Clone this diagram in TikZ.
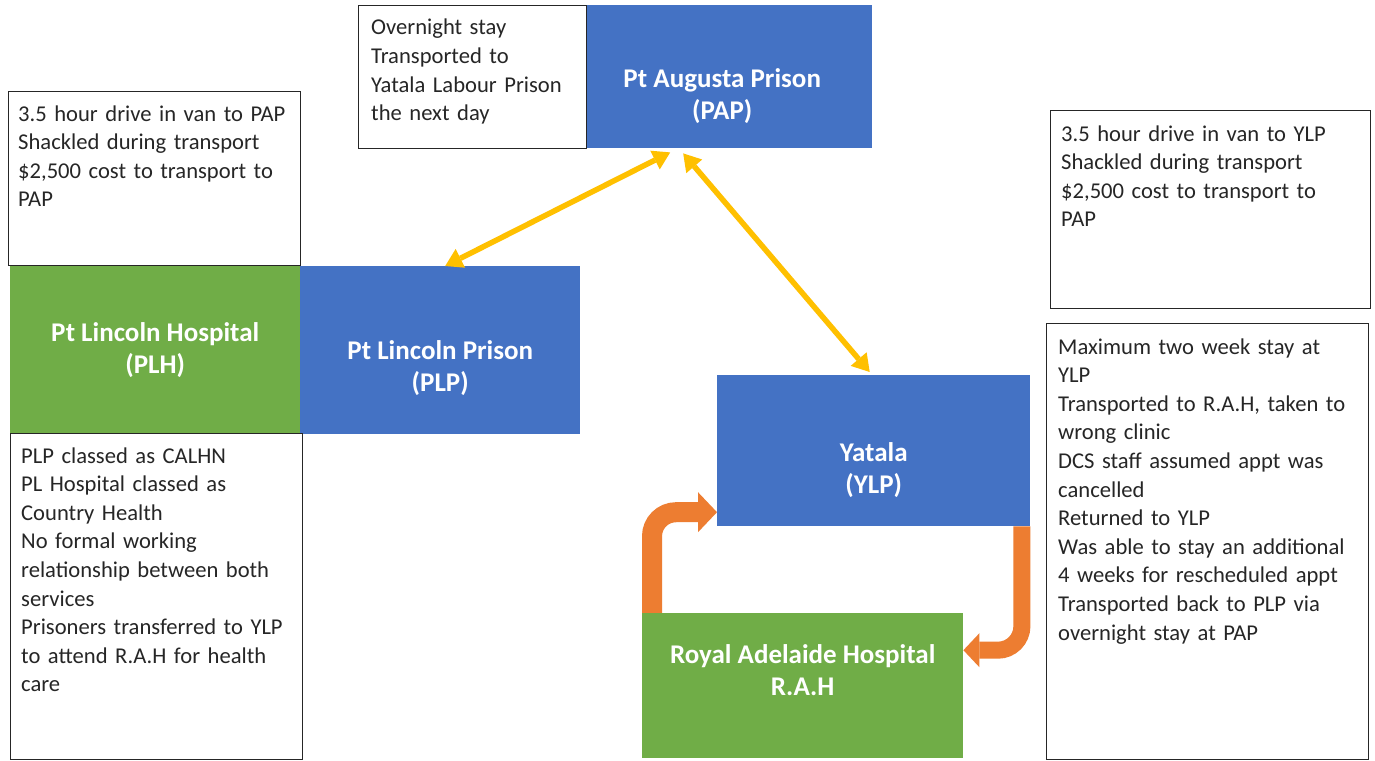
\documentclass[tikz,border=0pt]{standalone}
\usepackage{fontspec}
\setmainfont{Carlito}
\usetikzlibrary{arrows.meta,calc}
\definecolor{offblue}{HTML}{4472C4}
\definecolor{offgreen}{HTML}{70AD47}
\definecolor{offorange}{HTML}{ED7D31}
\definecolor{offyellow}{HTML}{FFC000}
\definecolor{txtcol}{HTML}{262626}
\begin{document}
\begin{tikzpicture}[x=1pt,y=-1pt,
  colbox/.style={rectangle, draw=none, inner sep=0pt, anchor=north west},
  bluebox/.style={colbox, fill=offblue},
  greenbox/.style={colbox, fill=offgreen},
  lbl/.style={text=white, align=center, inner sep=0pt, font=\fontsize{27}{32.5}\selectfont\bfseries},
  notebox/.style={rectangle, draw=black!85, line width=1.4pt, fill=white, anchor=north west, inner sep=0pt},
  notetext/.style={anchor=base west, text width=320pt, align=left, inner sep=0pt, text=txtcol, font=\fontsize{22.6}{28.6}\selectfont},
  yarrow/.style={draw=offyellow, line width=5.5pt, {Triangle[length=17pt,width=21pt,line width=0pt]}-{Triangle[length=17pt,width=21pt,line width=0pt]}},
  oarrow/.style={draw=offorange, rounded corners=24pt}
]
\useasboundingbox[fill=white] (0,0) rectangle (1375,760);

% coloured boxes
\node[bluebox, minimum width=286pt, minimum height=143pt] (pap) at (586,5) {};
\node[greenbox, minimum width=290pt, minimum height=168pt] (plh) at (10,265) {};
\node[bluebox, minimum width=280pt, minimum height=168pt] (plp) at (300,266) {};
\node[bluebox, minimum width=313pt, minimum height=151pt] (yat) at (717,375) {};

% orange loop arrows (shaft start hidden under RAH box)
\coordinate (lstart) at (652,628);
\draw[oarrow, line width=20pt, -{Triangle[length=19pt,width=40pt,line width=0pt]}]
  (lstart) |- ([yshift=-61.5pt]yat.west);

\node[greenbox, minimum width=321pt, minimum height=145pt] (rah) at (642,613) {};

\draw[oarrow, line width=17pt, -{Triangle[length=16pt,width=34pt,line width=0pt]}]
  ([xshift=-8.5pt]yat.south east) |- ([yshift=35.5pt]rah.east);

% labels
\node[lbl] (paplbl) at ([xshift=-7pt,yshift=-19.5pt]pap.center) {Pt Augusta Prison\\(PAP)};
\node[lbl] (plhlbl) at ([yshift=-1pt]plh.center) {Pt Lincoln Hospital\\(PLH)};
\node[lbl] (plplbl) at ([yshift=-18pt]plp.center) {Pt Lincoln Prison\\(PLP)};
\node[lbl] (yatlbl) at ([yshift=-19.5pt]yat.center) {Yatala\\(YLP)};
\node[lbl] (rahlbl) at ([yshift=15.5pt]rah.center) {Royal Adelaide Hospital\\R.A.H};

% note boxes
\node[notebox, minimum width=228pt, minimum height=143pt] (ovn) at (358,5) {};
\node[notetext] (ovntxt) at ([xshift=13pt,yshift=-30pt]ovn.north west)
  {Overnight stay\\Transported to\\Yatala Labour Prison\\the next day};

\node[notebox, minimum width=292pt, minimum height=174pt] (ltop) at (8,91) {};
\node[notetext] (ltoptxt) at ([xshift=10pt,yshift=-30pt]ltop.north west)
  {3.5 hour drive in van to PAP\\Shackled during transport\\\$2,500 cost to transport to\\PAP};

\node[notebox, minimum width=292pt, minimum height=326pt] (lbot) at (10,433) {};
\node[notetext] (lbottxt) at ([xshift=11pt,yshift=-30pt]lbot.north west)
  {PLP classed as CALHN\\PL Hospital classed as\\Country Health\\No formal working\\relationship between both\\services\\Prisoners transferred to YLP\\to attend R.A.H for health\\care};

\node[notebox, minimum width=320pt, minimum height=198pt] (rtop) at (1050,110) {};
\node[notetext] (rtoptxt) at ([xshift=11pt,yshift=-31pt]rtop.north west)
  {3.5 hour drive in van to YLP\\Shackled during transport\\\$2,500 cost to transport to\\PAP};

\node[notebox, minimum width=322pt, minimum height=436pt] (rbot) at (1046,323) {};
\node[notetext] (rbottxt) at ([xshift=12pt,yshift=-31pt]rbot.north west)
  {Maximum two week stay at\\YLP\\Transported to R.A.H, taken to\\wrong clinic\\DCS staff assumed appt was\\cancelled\\Returned to YLP\\Was able to stay an additional\\4 weeks for rescheduled appt\\Transported back to PLP via\\overnight stay at PAP};

% yellow double arrows
\draw[yarrow] ([xshift=5pt]plp.north) -- ([xshift=-59pt,yshift=-4pt]pap.south);
\draw[yarrow] ([xshift=-46pt,yshift=-5pt]pap.south) -- ([xshift=-4pt,yshift=3pt]yat.north);
\end{tikzpicture}
\end{document}
